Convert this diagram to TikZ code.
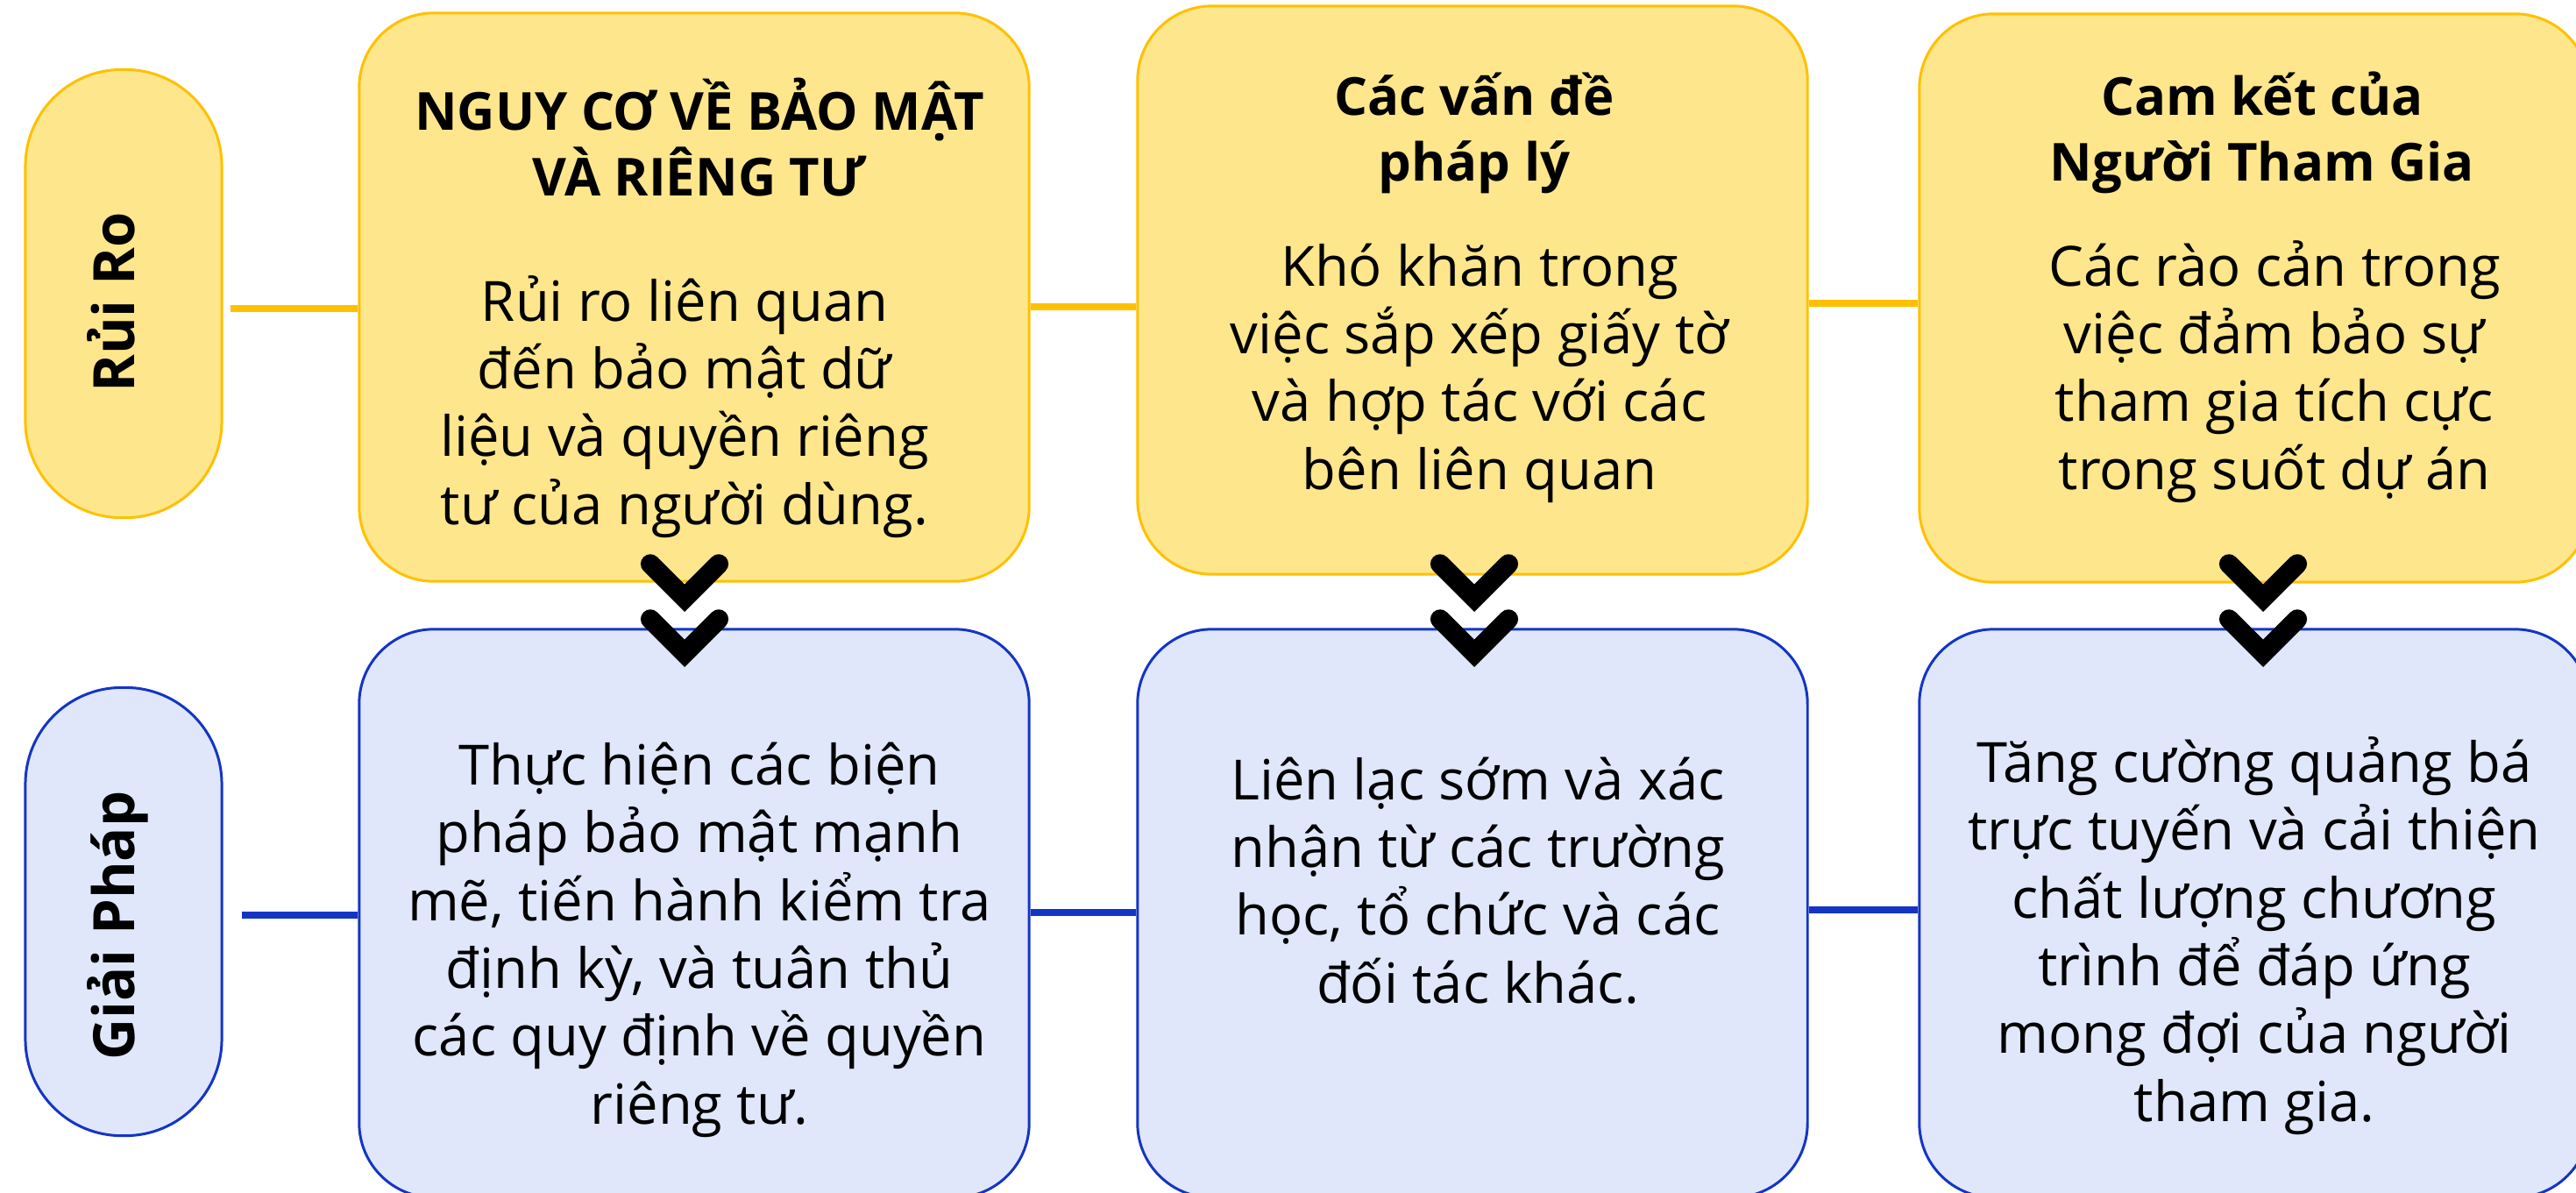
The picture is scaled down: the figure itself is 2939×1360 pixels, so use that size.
\documentclass[tikz,border=0pt]{standalone}
\usepackage{fontspec}
\setmainfont{Open Sans}
\usetikzlibrary{calc}
\definecolor{riskfill}{HTML}{FDE68C}
\definecolor{riskedge}{HTML}{FFC000}
\definecolor{fixfill}{HTML}{E0E7FB}
\definecolor{fixedge}{HTML}{1435C4}
\tikzset{
    risk-box/.style = {draw=riskedge, fill=riskfill, line width=0.85pt, rectangle, rounded corners=0.85cm, minimum width=7.64cm, minimum height=6.48cm, inner sep=0pt},
    fix-box/.style = {risk-box, draw=fixedge, fill=fixfill},
    side-pill/.style = {rectangle, rounded corners=1.1cm, minimum width=2.24cm, minimum height=5.11cm, line width=0.85pt, inner sep=0pt},
    side-label/.style = {rotate=90, anchor=base, inner sep=0pt, font=\bfseries\fontsize{18.5}{22}\selectfont},
    box-title/.style = {align=center, anchor=base, inner sep=0pt, font=\bfseries\fontsize{17}{21.3}\selectfont},
    box-text/.style = {align=center, anchor=base, inner sep=0pt, font=\fontsize{18}{22}\selectfont},
    risk-link/.style = {draw=riskedge, line width=2.3pt},
    fix-link/.style = {draw=fixedge, line width=2.2pt},
    chevron/.style = {draw=black, line width=6.3pt, line cap=round},
}

\begin{document}
\begin{tikzpicture}[x=0.01cm, y=-0.01cm]
\useasboundingbox (0,0) rectangle (2939,1360);

% left side labels
\node[side-pill, draw=riskedge, fill=riskfill] (rr) at (141,335) {};
\node[side-pill, draw=fixedge, fill=fixfill] (gp) at (141,1040) {};
\node[side-label] (rr-text) at ($(rr.center)+(12,10)$) {Rủi Ro};
\node[side-label] (gp-text) at ($(gp.center)+(12,16)$) {Giải Pháp};

% risks
\node[risk-box] (b1) at (792,339) {};
\node[risk-box] (b2) at (1680,331) {};
\node[risk-box] (b3) at (2572,340) {};
% solutions
\node[fix-box] (b4) at (792,1042) {};
\node[fix-box] (b5) at (1680,1042) {};
\node[fix-box] (b6) at (2572,1042) {};

\draw[risk-link] ($(rr.east)+(8,17)$) -- ($(b1.west)+(0,13)$);
\draw[risk-link] ($(b1.east)+(0,11)$) -- ($(b2.west)+(0,19)$);
\draw[risk-link] ($(b2.east)+(0,15)$) -- ($(b3.west)+(0,6)$);
\draw[fix-link] ($(gp.east)+(21,4)$) -- ($(b4.west)+(0,2)$);
\draw[fix-link] ($(b4.east)+(0,-1)$) -- ($(b5.west)+(0,-1)$);
\draw[fix-link] ($(b5.east)+(0,-4)$) -- ($(b6.west)+(0,-4)$);

% texts sit on the baseline of their last line
\node[box-title] (b1-title) at ($(b1.north)+(6,210)$) {NGUY CƠ VỀ BẢO MẬT\\VÀ RIÊNG TƯ};
\node[box-text] (b1-text) at ($(b1.north)+(-11,585)$) {Rủi ro liên quan\\đến bảo mật dữ\\liệu và quyền riêng\\tư của người dùng.};
\node[box-title] (b2-title) at ($(b2.north)+(2,201)$) {Các vấn đề\\pháp lý};
\node[box-text] (b2-text) at ($(b2.north)+(8,553)$) {Khó khăn trong\\việc sắp xếp giấy tờ\\và hợp tác với các\\bên liên quan};
\node[box-title] (b3-title) at ($(b3.north)+(9,192)$) {Cam kết của\\Người Tham Gia};
\node[box-text] (b3-text) at ($(b3.north)+(23,544)$) {Các rào cản trong\\việc đảm bảo sự\\tham gia tích cực\\trong suốt dự án};

\node[box-text] (b4-text) at ($(b4.north)+(6,566)$) {Thực hiện các biện\\pháp bảo mật mạnh\\mẽ, tiến hành kiểm tra\\định kỳ, và tuân thủ\\các quy định về quyền\\riêng tư.};
\node[box-text] (b5-text) at ($(b5.north)+(6,428)$) {Liên lạc sớm và xác\\nhận từ các trường\\học, tổ chức và các\\đối tác khác.};
\node[box-text] (b6-text) at ($(b6.north)+(0,563)$) {Tăng cường quảng bá\\trực tuyến và cải thiện\\chất lượng chương\\trình để đáp ứng\\mong đợi của người\\tham gia.};

% double chevrons between rows
\foreach \b/\dx in {b4/-11, b5/2, b6/10}
    \foreach \dy in {-73, -10}
        \draw[chevron] ($(\b.north)+(\dx-39,\dy)$) -- ++(39,39) -- ++(39,-39);
\end{tikzpicture}
\end{document}
